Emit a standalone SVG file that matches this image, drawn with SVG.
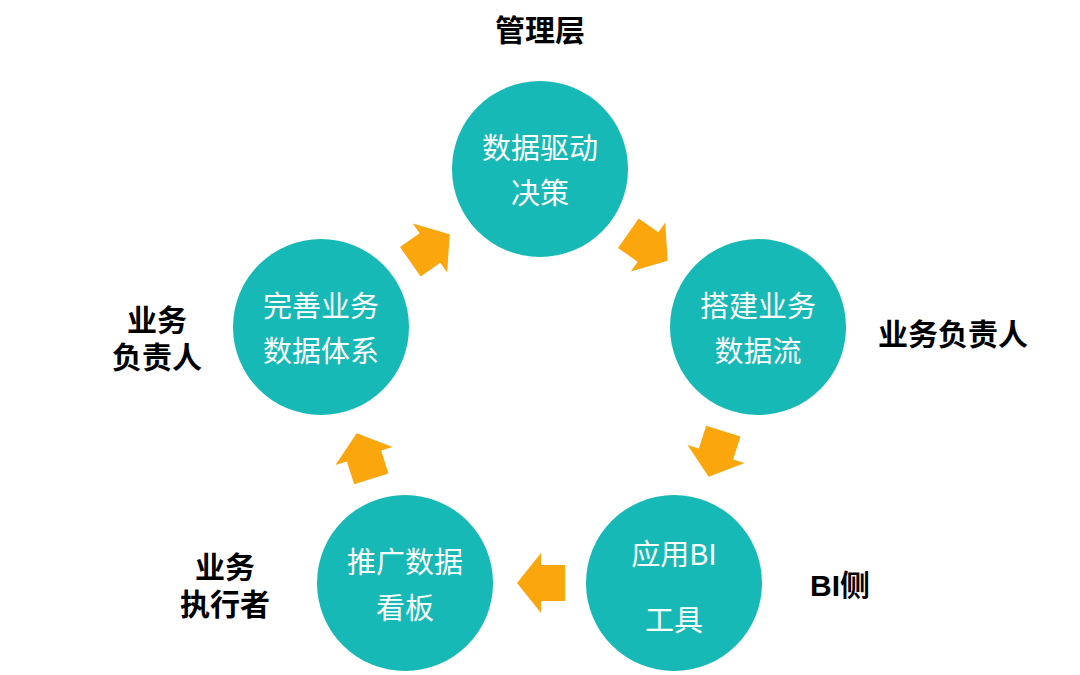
<svg xmlns="http://www.w3.org/2000/svg" width="1080" height="675" viewBox="0 0 1080 675">
<style>
.c{fill:#16B9B5}
.t{fill:#ffffff;font-family:"Noto Sans CJK SC","Noto Sans",sans-serif;font-size:29px;font-weight:normal;text-anchor:middle;dominant-baseline:central}
.l{fill:#000000;font-family:"Liberation Sans","Noto Sans CJK SC",sans-serif;font-size:30px;font-weight:bold;text-anchor:middle;dominant-baseline:central}
.a{fill:#FBA60C}
</style>
<defs>
<polygon id="arr" points="-24,-18 0,-18 0,-30 24,0 0,30 0,18 -24,18"/>
</defs>
<rect width="1080" height="675" fill="#ffffff"/>
<g id="connectors">
<use href="#arr" class="a" transform="translate(430,248) rotate(-35)"/>
<use href="#arr" class="a" transform="translate(648,247) rotate(35)"/>
<use href="#arr" class="a" transform="translate(716,454) rotate(107.7)"/>
<use href="#arr" class="a" transform="translate(541,583) rotate(180)"/>
<use href="#arr" class="a" transform="translate(364,456) rotate(-107.7)"/>
</g>
<g id="node-top">
<circle class="c" cx="540" cy="169" r="88"/>
<text class="t" x="540" y="146">数据驱动<tspan x="540" dy="45">决策</tspan></text>
</g>
<g id="node-right">
<circle class="c" cx="758" cy="327" r="88"/>
<text class="t" x="758" y="304">搭建业务<tspan x="758" dy="45">数据流</tspan></text>
</g>
<g id="node-bottom-right">
<circle class="c" cx="674" cy="583" r="88"/>
<text class="t" x="674" y="552">应用BI<tspan x="674" dy="66">工具</tspan></text>
</g>
<g id="node-bottom-left">
<circle class="c" cx="405" cy="583" r="88"/>
<text class="t" x="405" y="560">推广数据<tspan x="405" dy="46">看板</tspan></text>
</g>
<g id="node-left">
<circle class="c" cx="321" cy="327" r="88"/>
<text class="t" x="321" y="304">完善业务<tspan x="321" dy="45">数据体系</tspan></text>
</g>
<g id="labels">
<text class="l" x="540" y="30">管理层</text>
<text class="l" x="953" y="334">业务负责人</text>
<text class="l" x="840" y="585">BI侧</text>
<text class="l" x="157" y="320">业务<tspan x="157" dy="37">负责人</tspan></text>
<text class="l" x="225" y="567">业务<tspan x="225" dy="37">执行者</tspan></text>
</g>
</svg>
